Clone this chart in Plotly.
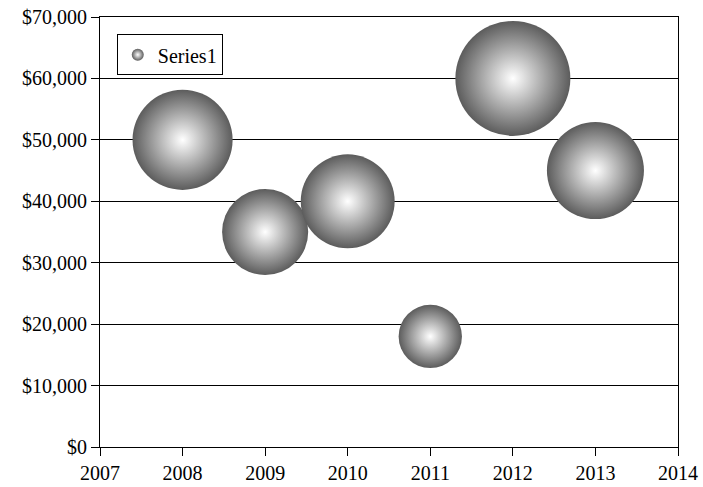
import plotly.graph_objects as go

# data
years = [2008, 2009, 2010, 2011, 2012, 2013]
revenue = [50000, 35000, 40000, 18000, 60000, 45000]
bubble_size = [25, 18.5, 22, 10, 33, 23.5]

max_px = 115  # diameter of the largest bubble
sizeref = 2.0 * max(bubble_size) / (max_px ** 2)

fig = go.Figure()

fig.add_trace(go.Scatter(
    x=years,
    y=revenue,
    mode='markers',
    showlegend=False,
    marker=dict(
        size=bubble_size,
        sizemode='area',
        sizeref=sizeref,
        color='#5c5c5c',
        gradient=dict(type='radial', color='white'),
        line=dict(width=0),
        opacity=1,
    ),
))

# legend entry with a small bubble, like the original
fig.add_trace(go.Scatter(
    x=[None], y=[None],
    mode='markers',
    name='Series1',
    marker=dict(size=10, color='#5c5c5c',
                gradient=dict(type='radial', color='white'),
                line=dict(width=0)),
))

font = dict(family='Liberation Serif', size=20, color='black')

fig.update_layout(
    width=703,
    height=487,
    margin=dict(l=100, r=25, t=17, b=40),
    plot_bgcolor='white',
    paper_bgcolor='white',
    font=font,
    showlegend=True,
    legend=dict(
        x=0.029, y=0.96, xanchor='left', yanchor='top',
        bordercolor='black', borderwidth=1,
        bgcolor='white',
        font=font,
        itemsizing='constant',
        itemwidth=30,
    ),
    xaxis=dict(
        range=[2007, 2014],
        dtick=1,
        tick0=2007,
        showgrid=False,
        zeroline=False,
        automargin=False,
        showline=True, linecolor='black', linewidth=1, mirror=True,
        ticks='outside', ticklen=8, tickcolor='black',
        tickfont=font,
    ),
    yaxis=dict(
        range=[0, 70000],
        dtick=10000,
        tickprefix='$',
        tickformat=',d',
        showgrid=True, gridcolor='black', gridwidth=1,
        zeroline=False,
        automargin=False,
        showline=True, linecolor='black', linewidth=1, mirror=True,
        ticks='outside', ticklen=8, tickcolor='black',
        tickfont=font,
    ),
)

# the page's default body margin would shift the fixed-size figure
fig.write_html("out.html", config={'displayModeBar': False},
               post_script="document.body.style.margin='0';")
